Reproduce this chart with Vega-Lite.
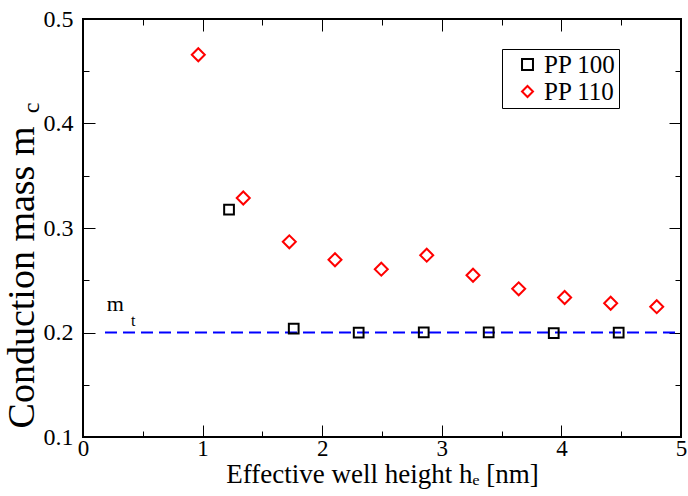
{
  "$schema": "https://vega.github.io/schema/vega-lite/v6.json",
  "width": 598,
  "height": 418,
  "autosize": "none",
  "padding": {"left": 83, "top": 19, "right": 7, "bottom": 59},
  "background": "white",
  "config": {
    "view": {"stroke": "black", "strokeWidth": 2},
    "font": "Liberation Serif",
    "axis": {
      "grid": false,
      "domain": false,
      "labelFont": "Liberation Serif",
      "titleFont": "Liberation Serif",
      "labelColor": "black",
      "titleColor": "black",
      "tickColor": "black",
      "tickWidth": 1,
      "titleFontWeight": "normal",
      "labelOverlap": false,
      "labelFlush": false
    }
  },
  "datasets": {
    "points": [
      {"series": "PP 100", "he": 1.221, "mc": 0.3177},
      {"series": "PP 100", "he": 1.762, "mc": 0.2036},
      {"series": "PP 100", "he": 2.305, "mc": 0.1998},
      {"series": "PP 100", "he": 2.849, "mc": 0.2002},
      {"series": "PP 100", "he": 3.392, "mc": 0.2002},
      {"series": "PP 100", "he": 3.936, "mc": 0.1995},
      {"series": "PP 100", "he": 4.479, "mc": 0.1998},
      {"series": "PP 110", "he": 0.964, "mc": 0.4658},
      {"series": "PP 110", "he": 1.340, "mc": 0.3287},
      {"series": "PP 110", "he": 1.725, "mc": 0.2868},
      {"series": "PP 110", "he": 2.107, "mc": 0.2696},
      {"series": "PP 110", "he": 2.494, "mc": 0.2606},
      {"series": "PP 110", "he": 2.874, "mc": 0.2740},
      {"series": "PP 110", "he": 3.261, "mc": 0.2548},
      {"series": "PP 110", "he": 3.643, "mc": 0.2418},
      {"series": "PP 110", "he": 4.027, "mc": 0.2335},
      {"series": "PP 110", "he": 4.412, "mc": 0.2280},
      {"series": "PP 110", "he": 4.797, "mc": 0.2247}
    ],
    "mt": [{"he": 0.184, "he2": 5, "mc": 0.2}],
    "labels": [
      {"he": 0.198, "mc": 0.2209, "text": "m", "size": "big"},
      {"he": 0.401, "mc": 0.2065, "text": "t", "size": "small"}
    ],
    "ysub": [{"he": -0.425, "mc": 0.415, "text": "c"}]
  },
  "resolve": {"axis": {"x": "independent", "y": "independent"}},
  "layer": [
    {
      "data": {"name": "mt"},
      "mark": {"type": "rule", "color": "#0000ff", "strokeWidth": 2, "strokeDash": [12, 6]},
      "encoding": {
        "x": {"field": "he", "type": "quantitative", "scale": {"domain": [0, 5], "nice": false, "zero": false},
          "axis": {"orient": "top", "values": [0,1,2,3,4,5], "labels": false, "title": null, "tickSize": -12}},
        "x2": {"field": "he2"},
        "y": {"field": "mc", "type": "quantitative", "scale": {"domain": [0.1, 0.5], "nice": false, "zero": false},
          "axis": {"orient": "right", "values": [0.1,0.2,0.3,0.4,0.5], "labels": false, "title": null, "tickSize": -12}}
      }
    },
    {
      "data": {"name": "labels"},
      "mark": {"type": "text", "align": "left", "baseline": "alphabetic", "font": "Liberation Serif", "color": "black"},
      "encoding": {
        "x": {"field": "he", "type": "quantitative", "scale": {"domain": [0, 5], "nice": false, "zero": false},
          "axis": {"orient": "bottom", "values": [0.5,1.5,2.5,3.5,4.5], "labels": false, "title": null, "tickSize": -6}},
        "y": {"field": "mc", "type": "quantitative", "scale": {"domain": [0.1, 0.5], "nice": false, "zero": false},
          "axis": {"orient": "left", "values": [0.15,0.25,0.35,0.45], "labels": false, "title": null, "tickSize": -6}},
        "text": {"field": "text"},
        "size": {"condition": {"test": "datum.size === 'small'", "value": 16}, "value": 22}
      }
    },
    {
      "data": {"name": "ysub"},
      "mark": {"type": "text", "align": "center", "baseline": "middle", "angle": 270, "font": "Liberation Serif", "fontSize": 24, "color": "black"},
      "encoding": {
        "x": {"field": "he", "type": "quantitative", "scale": {"domain": [0, 5], "nice": false, "zero": false},
          "axis": {"orient": "top", "values": [0.5,1.5,2.5,3.5,4.5], "labels": false, "title": null, "tickSize": -6}},
        "y": {"field": "mc", "type": "quantitative", "scale": {"domain": [0.1, 0.5], "nice": false, "zero": false},
          "axis": {"orient": "right", "values": [0.15,0.25,0.35,0.45], "labels": false, "title": null, "tickSize": -6}},
        "text": {"field": "text"}
      }
    },
    {
      "data": {"name": "points"},
      "mark": {"type": "point", "filled": false, "strokeWidth": 2, "opacity": 1},
      "encoding": {
        "x": {"field": "he", "type": "quantitative", "scale": {"domain": [0, 5], "nice": false, "zero": false},
          "axis": {"orient": "bottom", "values": [0,1,2,3,4,5], "format": "d",
            "labelFontSize": 23, "labelPadding": 12, "tickSize": -12,
            "title": "Effective well height hₑ [nm]", "titleFontSize": 27, "titlePadding": 1}},
        "y": {"field": "mc", "type": "quantitative", "scale": {"domain": [0.1, 0.5], "nice": false, "zero": false},
          "axis": {"orient": "left", "values": [0.1,0.2,0.3,0.4,0.5], "format": ".1f",
            "labelFontSize": 24, "labelPadding": 22, "tickSize": -12,
            "title": "Conduction mass m", "titleFontSize": 38, "titlePadding": 2, "titleY": 258}},
        "shape": {"field": "series", "type": "nominal", "scale": {"domain": ["PP 100", "PP 110"], "range": ["square", "diamond"]},
          "legend": {"orient": "none", "legendX": 419, "legendY": 30, "title": null, "strokeColor": "black",
            "padding": 3, "labelFont": "Liberation Serif", "labelFontSize": 25, "labelColor": "black", "symbolStrokeWidth": 2,
            "symbolSize": 120, "symbolOffset": 10, "labelOffset": 4, "rowPadding": 1, "fillColor": "white"}},
        "color": {"field": "series", "type": "nominal", "scale": {"domain": ["PP 100", "PP 110"], "range": ["black", "#ff0000"]}},
        "size": {"condition": {"test": "datum.series === 'PP 110'", "value": 169}, "value": 95}
      }
    }
  ]
}
